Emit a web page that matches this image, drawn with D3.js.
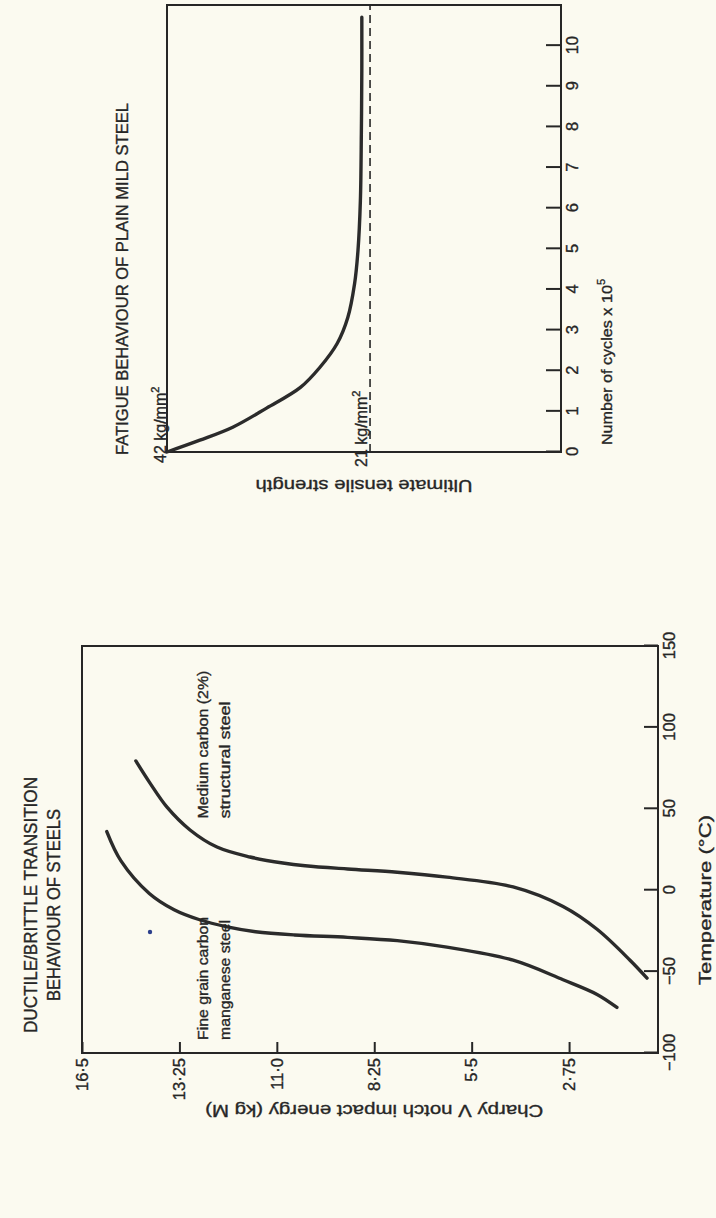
<!DOCTYPE html>
<html>
<head>
<meta charset="utf-8">
<script src="https://cdnjs.cloudflare.com/ajax/libs/d3/7.8.5/d3.min.js"></script>
<style>
	body { margin: 0; background: #fbfaf0; }
	svg { display: block; }
	text { font-family: "Liberation Sans", Arial, sans-serif; fill: #262626; stroke: #262626; stroke-width: 0.35px; }
</style>
</head>
<body>
<div id="chart"></div>
<script>
// @ Data : ductile / brittle transition
const tempTicks = [-100, -50, 0, 50, 100, 150];
const energyTicks = [16.5, 13.75, 11, 8.25, 5.5, 2.75];
const energyLabels = ["16·5", "13·25", "11·0", "8·25", "5·5", "2·75"];

const fineTemp = [-72, -64, -55, -43, -35, -31, -29, -27.5, -25.5, -22.5, -18, -12, -2, 18, 36];
const fineEnergy = [1.4, 1.96, 2.92, 4.33, 6.2, 7.6, 9.0, 10.5, 11.6, 12.4, 13.2, 13.9, 14.6, 15.4, 15.8];

const mediumTemp = [-54, -43, -24, -10, 2, 8, 11, 13, 15, 16.7, 20.4, 26.5, 37, 51, 65.8, 79.4];
const mediumEnergy = [0.55, 1.03, 1.96, 2.92, 4.33, 6.2, 7.6, 9.0, 10.2, 10.83, 11.76, 12.69, 13.45, 14.1, 14.58, 14.98];

// @ Data : fatigue of plain mild steel
const cycleTicks = [0, 1, 2, 3, 4, 5, 6, 7, 8, 9, 10];
const fatigueCycles = [0, 0.29, 0.61, 1.08, 1.59, 2.08, 2.67, 3.31, 4.14, 4.95, 6.18, 7.82, 9.44, 10.7];
const fatigueStrength = [42, 38.6, 35.2, 31.7, 28.2, 26.2, 24.4, 23.3, 22.6, 22.25, 22.0, 21.9, 21.85, 21.85];
const strengthMarks = [42, 21];

const W = 716;
const H = 1218;
const ink = "#262626";

const svg = d3
	.select("#chart")
	.append("svg")
	.attr("width", W)
	.attr("height", H);

svg.append("rect").attr("width", W).attr("height", H).attr("fill", "#fbfaf0");

// the whole page is printed sideways: draw upright, then turn it
const page = svg.append("g").attr("transform", `translate(0,${H}) rotate(-90)`);

// text helper, stretched a little to match the wide lettering of the print
const label = (g, str, size, len) =>
	g
		.append("text")
		.style("font-size", size + "px")
		.attr("textLength", len)
		.attr("lengthAdjust", "spacingAndGlyphs")
		.text(str);

// @ Left chart
const xT = d3.scaleLinear().domain([-100, 150]).range([165, 572]);
const yE = d3.scaleLinear().domain([16.5, 0.24]).range([82, 658]);

const left = page.append("g");

left
	.append("rect")
	.attr("x", xT(-100))
	.attr("y", yE(16.5))
	.attr("width", xT(150) - xT(-100))
	.attr("height", yE(0.24) - yE(16.5))
	.attr("fill", "none")
	.attr("stroke", ink)
	.attr("stroke-width", 2);

const tAxis = left
	.append("g")
	.attr("transform", `translate(0,${yE(0.24)})`)
	.call(
		d3.axisBottom(xT).tickValues(tempTicks).tickSizeInner(-14).tickSizeOuter(0).tickPadding(5)
	);

const eAxis = left
	.append("g")
	.attr("transform", `translate(${xT(-100)},0)`)
	.call(
		d3
			.axisLeft(yE)
			.tickValues(energyTicks)
			.tickFormat((d, i) => energyLabels[i])
			.tickSizeInner(-11)
			.tickSizeOuter(0)
			.tickPadding(5)
	);

const styleAxis = (a) => {
	a.select(".domain").remove();
	a.selectAll("line").attr("stroke", ink).attr("stroke-width", 2);
	a.selectAll("text")
		.attr("fill", ink)
		.attr("font-family", null)
		.attr("font-size", null)
		.style("font-size", "16.5px");
};
styleAxis(tAxis);
styleAxis(eAxis);

const transLine = d3
	.line()
	.x((d) => xT(d[0]))
	.y((d) => yE(d[1]))
	.curve(d3.curveCatmullRom.alpha(0.5));

[d3.zip(fineTemp, fineEnergy), d3.zip(mediumTemp, mediumEnergy)].forEach((pts) => {
	left
		.append("path")
		.attr("d", transLine(pts))
		.attr("fill", "none")
		.attr("stroke", "#2b2b2b")
		.attr("stroke-width", 3.4)
		.attr("stroke-linecap", "round");
});

// stray ink dot on the scan
left
	.append("circle")
	.attr("cx", xT(-25.7))
	.attr("cy", yE(14.58))
	.attr("r", 2.2)
	.attr("fill", "#2c3f8c");

label(left, "Fine grain carbon", 15, 123).attr("x", xT(-92)).attr("y", 208);
label(left, "manganese steel", 15, 120).attr("x", xT(-92)).attr("y", 230);
label(left, "Medium carbon (2%)", 15, 148).attr("x", xT(44)).attr("y", 208);
label(left, "structural steel", 15, 117).attr("x", xT(44)).attr("y", 230);

label(left, "DUCTILE/BRITTLE  TRANSITION", 17.5, 256)
	.attr("x", 313)
	.attr("y", 37)
	.attr("text-anchor", "middle");
label(left, "BEHAVIOUR  OF  STEELS", 17.5, 192)
	.attr("x", 313)
	.attr("y", 60)
	.attr("text-anchor", "middle");

label(left, "Temperature  (°C)", 17, 170)
	.attr("x", xT(-6))
	.attr("y", 711)
	.attr("text-anchor", "middle");

label(left, "Charpy  V  notch  impact  energy  (kg  M)", 16.5, 338)
	.attr("transform", `translate(113,${yE(8.25)}) rotate(-90)`)
	.attr("text-anchor", "middle");

// @ Right chart
const xC = d3.scaleLinear().domain([0, 11]).range([766, 1213]);
const yS = d3.scaleLinear().domain([42, 1.25]).range([167, 561]);

const right = page.append("g");

right
	.append("rect")
	.attr("x", xC(0))
	.attr("y", yS(42))
	.attr("width", xC(11) - xC(0))
	.attr("height", yS(1.25) - yS(42))
	.attr("fill", "none")
	.attr("stroke", ink)
	.attr("stroke-width", 2);

const cAxis = right
	.append("g")
	.attr("transform", `translate(0,${yS(1.25)})`)
	.call(
		d3.axisBottom(xC).tickValues(cycleTicks).tickSizeInner(-15).tickSizeOuter(0).tickPadding(5)
	);
styleAxis(cAxis);

// endurance limit
right
	.append("line")
	.attr("x1", xC(0))
	.attr("x2", xC(11))
	.attr("y1", yS(21))
	.attr("y2", yS(21))
	.attr("stroke", ink)
	.attr("stroke-width", 1.6)
	.attr("stroke-dasharray", "8,5");

const fatigueLine = d3
	.line()
	.x((d) => xC(d[0]))
	.y((d) => yS(d[1]))
	.curve(d3.curveCatmullRom.alpha(0.5));

right
	.append("path")
	.attr("d", fatigueLine(d3.zip(fatigueCycles, fatigueStrength)))
	.attr("fill", "none")
	.attr("stroke", "#2b2b2b")
	.attr("stroke-width", 3.4)
	.attr("stroke-linecap", "round");

const sLabels = right
	.selectAll(".slab")
	.data(strengthMarks)
	.enter()
	.append("text")
	.attr("x", (d, i) => [755, 751][i])
	.attr("y", (d, i) => yS(d) - [1, 3][i])
	.style("font-size", "16px");
sLabels.append("tspan").text((d) => `${d} kg/mm`);
sLabels.append("tspan").attr("dy", -7).style("font-size", "11px").text("2");

label(right, "FATIGUE  BEHAVIOUR  OF  PLAIN  MILD  STEEL", 16.5, 352).attr("x", 763).attr("y", 128);

const cTitle = right
	.append("text")
	.attr("x", xC(0.17))
	.attr("y", 612)
	.style("font-size", "15px");
cTitle
	.append("tspan")
	.attr("textLength", 160)
	.attr("lengthAdjust", "spacingAndGlyphs")
	.text("Number  of  cycles  x  10");
cTitle.append("tspan").attr("dy", -7).style("font-size", "11px").text("5");

label(right, "Ultimate  tensile  strength", 17, 217)
	.attr("transform", `translate(738,${(yS(42) + yS(1.25)) / 2}) rotate(-90)`)
	.attr("text-anchor", "middle");
</script>
</body>
</html>
